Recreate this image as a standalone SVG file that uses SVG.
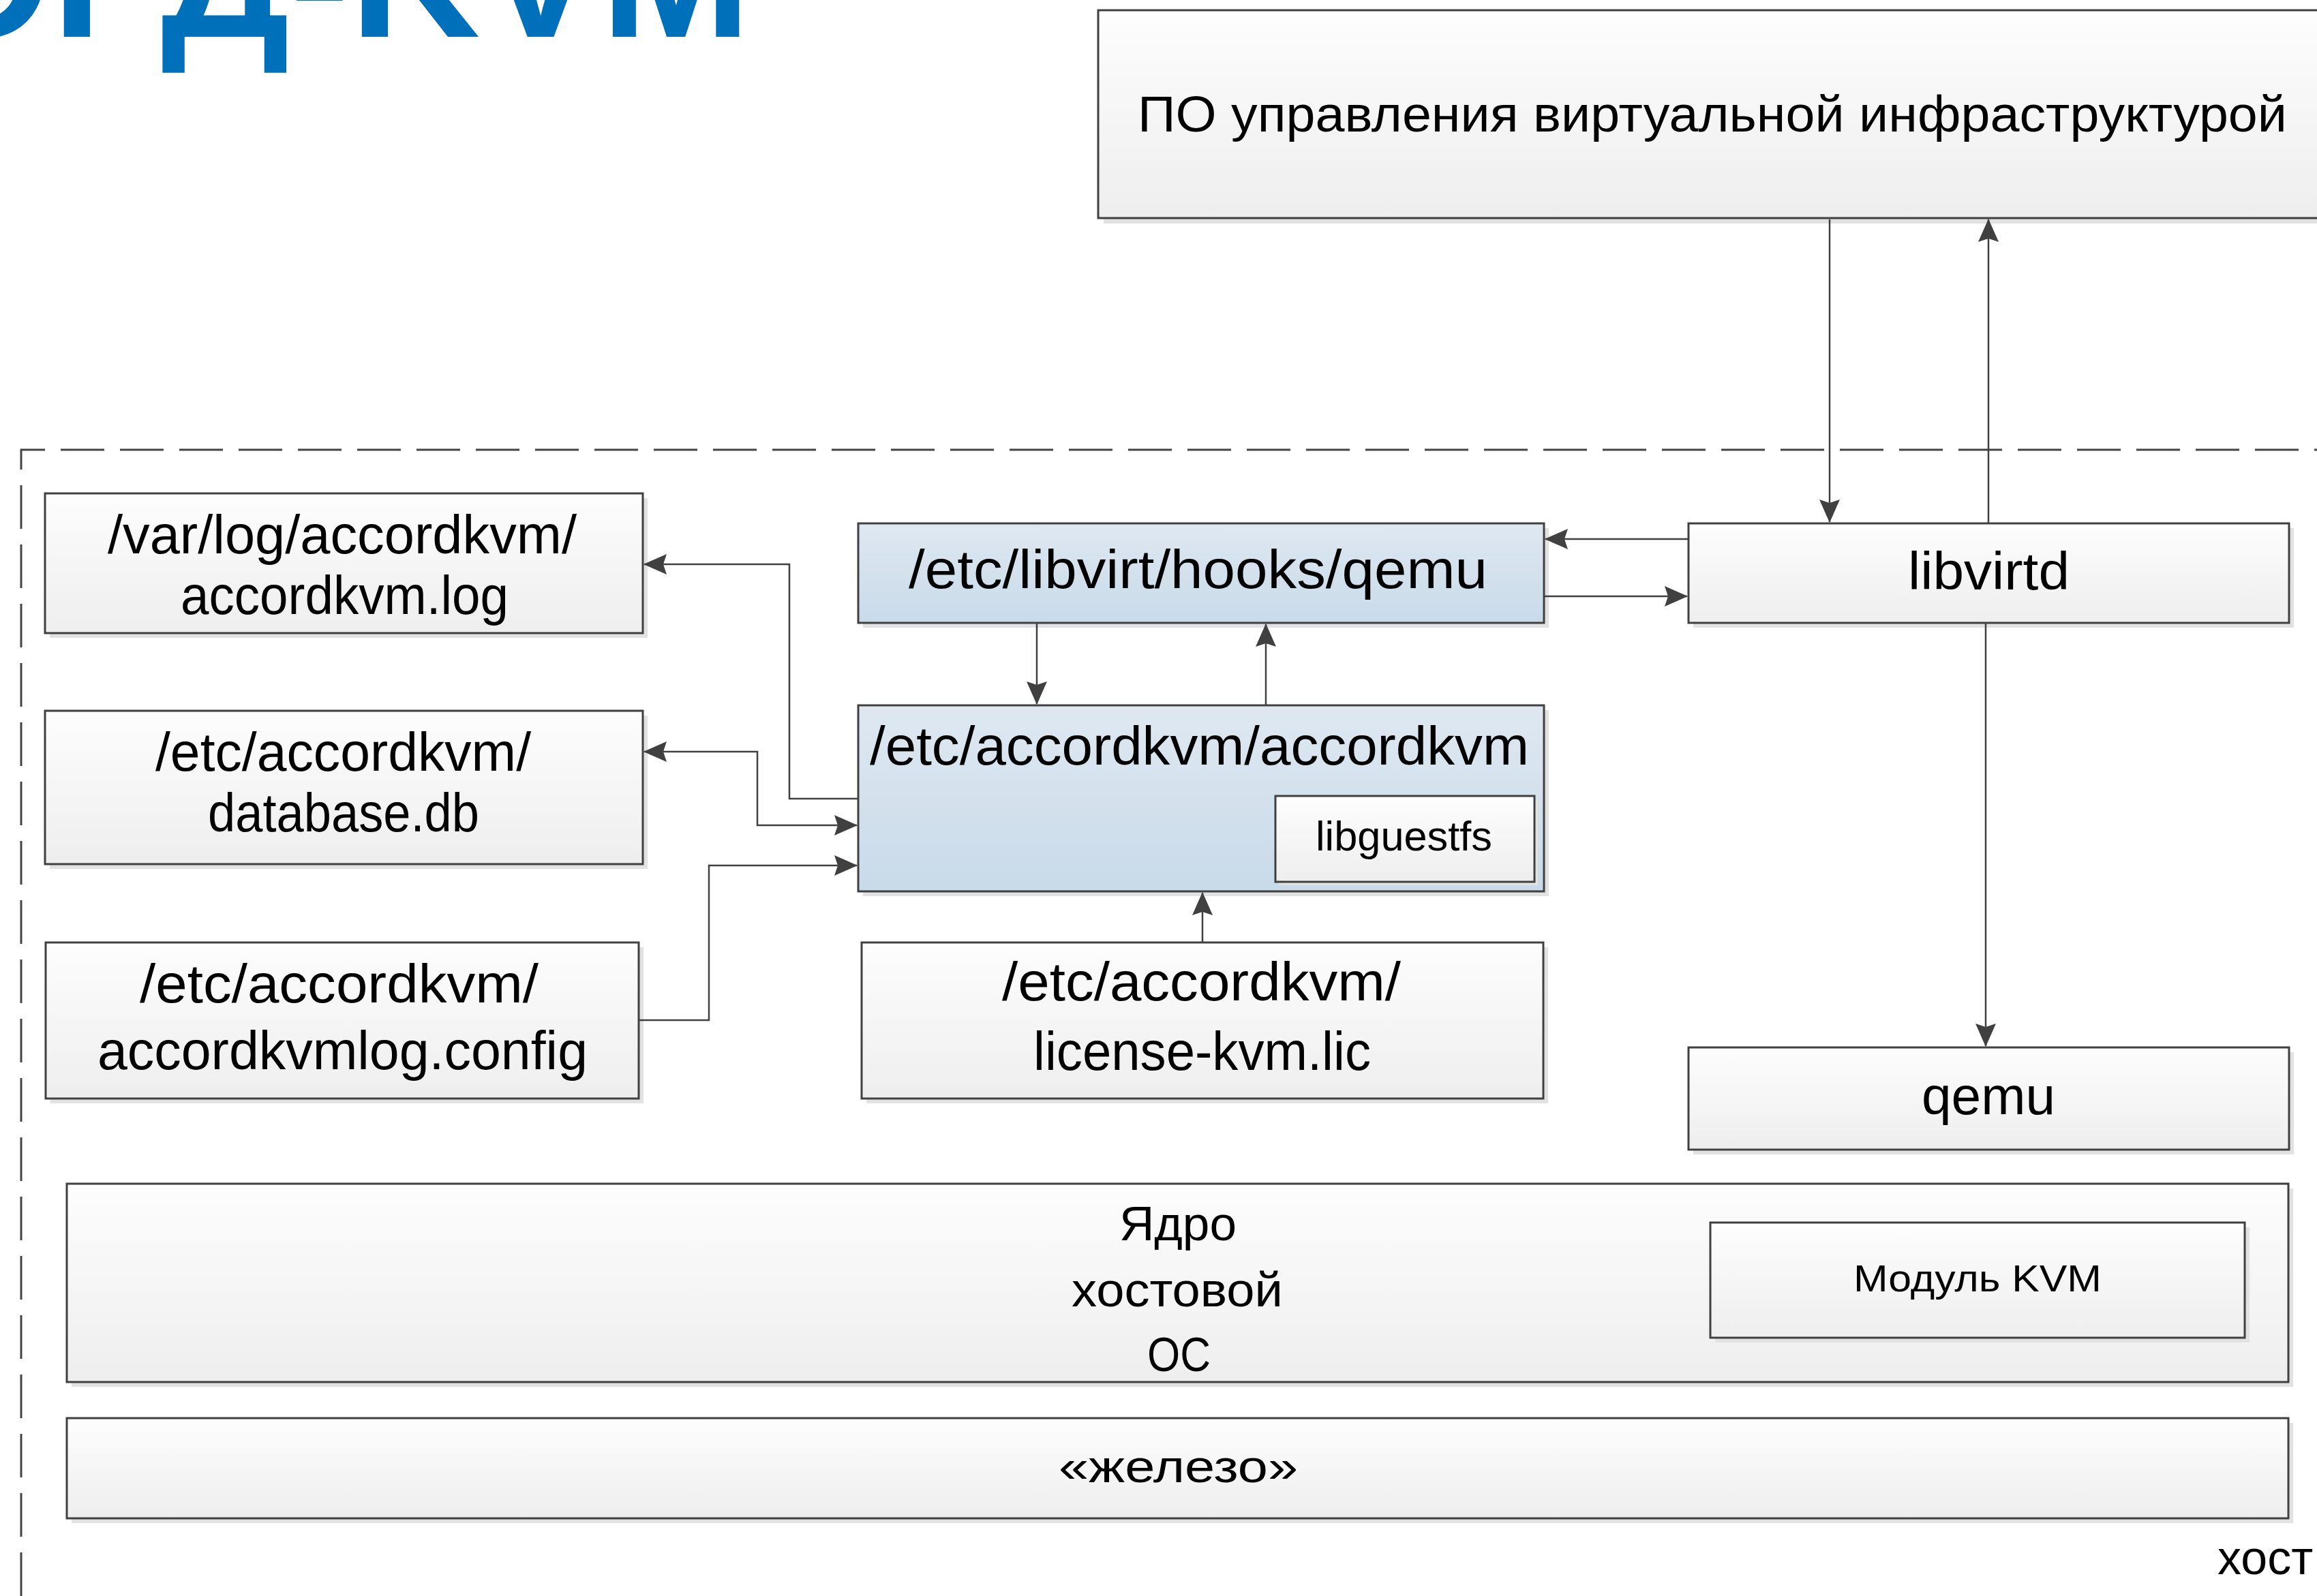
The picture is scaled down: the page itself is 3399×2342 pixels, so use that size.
<svg xmlns="http://www.w3.org/2000/svg" width="3399" height="2342" viewBox="0 0 3399 2342">
<defs>
<linearGradient id="gw" x1="0" y1="0" x2="0" y2="1"><stop offset="0" stop-color="#fdfdfd"/><stop offset="1" stop-color="#eeeeee"/></linearGradient>
<linearGradient id="gb" x1="0" y1="0" x2="0" y2="1"><stop offset="0" stop-color="#dfe8f1"/><stop offset="1" stop-color="#c8dae9"/></linearGradient>
<marker id="ah" viewBox="0 0 34 30" refX="33" refY="15" markerWidth="34" markerHeight="30" markerUnits="userSpaceOnUse" orient="auto-start-reverse"><path d="M0,0 L34,15 L0,30 L5,15 Z" fill="#404040"/></marker>
<style>
.box{fill:url(#gw);stroke:#404040;stroke-width:3}
.blue{fill:url(#gb);stroke:#404040;stroke-width:3}
.sh{fill:#e2e2e2}
.t{font-family:"Liberation Sans",Arial,sans-serif;fill:#000;font-size:80px}
.ca{fill:none;stroke:#404040;stroke-width:2.5;marker-end:url(#ah)}
</style>
</defs>
<rect width="3399" height="2342" fill="#ffffff"/>
<text id="title" x="1102" y="54" text-anchor="end" font-family="Liberation Sans,Arial,sans-serif" font-weight="bold" font-size="265" fill="#0070BA">АККОРД-KVM</text>
<path id="host-frame" d="M31,2342 V660 H3399" fill="none" stroke="#444444" stroke-width="3" stroke-dasharray="64 23"/>
<text id="host-label" class="t" x="3253" y="2310" style="font-size:70px">хост</text>

<g id="mgmt"><rect class="sh" x="1619" y="23" width="1800" height="305"/><rect class="box" x="1611" y="15" width="1800" height="305"/><text class="t" x="1669" y="193" style="font-size:74px" textLength="1686" lengthAdjust="spacingAndGlyphs">ПО управления виртуальной инфраструктурой</text></g>

<g id="varlog"><rect class="sh" x="73" y="731" width="877" height="205"/><rect class="box" x="66" y="724" width="877" height="205"/><text class="t" x="158" y="812" textLength="688" lengthAdjust="spacingAndGlyphs">/var/log/accordkvm/</text><text class="t" x="265" y="901" textLength="481" lengthAdjust="spacingAndGlyphs">accordkvm.log</text></g>

<g id="database"><rect class="sh" x="73" y="1050" width="877" height="225"/><rect class="box" x="66" y="1043" width="877" height="225"/><text class="t" x="228" y="1131" textLength="551" lengthAdjust="spacingAndGlyphs">/etc/accordkvm/</text><text class="t" x="305" y="1220" textLength="398" lengthAdjust="spacingAndGlyphs">database.db</text></g>

<g id="logconfig"><rect class="sh" x="74" y="1390" width="870" height="229"/><rect class="box" x="67" y="1383" width="870" height="229"/><text class="t" x="205" y="1471" textLength="585" lengthAdjust="spacingAndGlyphs">/etc/accordkvm/</text><text class="t" x="143" y="1569" textLength="719" lengthAdjust="spacingAndGlyphs">accordkvmlog.config</text></g>

<g id="hooks"><rect class="sh" x="1266" y="775" width="1006" height="146"/><rect class="blue" x="1259" y="768" width="1006" height="146"/><text class="t" x="1333" y="863" textLength="849" lengthAdjust="spacingAndGlyphs">/etc/libvirt/hooks/qemu</text></g>

<g id="accordkvm"><rect class="sh" x="1266" y="1042" width="1006" height="273"/><rect class="blue" x="1259" y="1035" width="1006" height="273"/><text class="t" x="1276" y="1122" textLength="967" lengthAdjust="spacingAndGlyphs">/etc/accordkvm/accordkvm</text>
<g id="libguestfs"><rect class="sh" x="1876" y="1173" width="380" height="126"/><rect class="box" x="1871" y="1168" width="380" height="126"/><text class="t" x="1930" y="1248" style="font-size:62px" textLength="259" lengthAdjust="spacingAndGlyphs">libguestfs</text></g></g>

<g id="license"><rect class="sh" x="1271" y="1390" width="1000" height="229"/><rect class="box" x="1264" y="1383" width="1000" height="229"/><text class="t" x="1470" y="1468" textLength="585" lengthAdjust="spacingAndGlyphs">/etc/accordkvm/</text><text class="t" x="1516" y="1570" textLength="495" lengthAdjust="spacingAndGlyphs">license-kvm.lic</text></g>

<g id="libvirtd"><rect class="sh" x="2484" y="775" width="881" height="146"/><rect class="box" x="2477" y="768" width="881" height="146"/><text class="t" x="2799" y="865" style="font-size:77px" textLength="237" lengthAdjust="spacingAndGlyphs">libvirtd</text></g>

<g id="qemu"><rect class="sh" x="2484" y="1544" width="881" height="150"/><rect class="box" x="2477" y="1537" width="881" height="150"/><text class="t" x="2819" y="1635" style="font-size:77px" textLength="196" lengthAdjust="spacingAndGlyphs">qemu</text></g>

<g id="kernel"><rect class="sh" x="105" y="1744" width="3259" height="291"/><rect class="box" x="98" y="1737" width="3259" height="291"/><text class="t" x="1642" y="1820" style="font-size:70px" textLength="172" lengthAdjust="spacingAndGlyphs">Ядро</text><text class="t" x="1572" y="1917" style="font-size:70px" textLength="310" lengthAdjust="spacingAndGlyphs">хостовой</text><text class="t" x="1683" y="2012" style="font-size:70px" textLength="93" lengthAdjust="spacingAndGlyphs">ОС</text>
<g id="kvm-module"><rect class="sh" x="2516" y="1801" width="784" height="169"/><rect class="box" x="2509" y="1794" width="784" height="169"/><text class="t" x="2719" y="1895" style="font-size:56px" textLength="364" lengthAdjust="spacingAndGlyphs">Модуль KVM</text></g></g>

<g id="hardware"><rect class="sh" x="105" y="2088" width="3259" height="147"/><rect class="box" x="98" y="2081" width="3259" height="147"/><text class="t" x="1553" y="2175" style="font-size:66px" textLength="351" lengthAdjust="spacingAndGlyphs">«железо»</text></g>

<g id="connectors">
<path class="ca" d="M2684,322 V766"/>
<path class="ca" d="M2917,768 V322"/>
<path class="ca" d="M2477,791 H2267"/>
<path class="ca" d="M2265,875 H2475"/>
<path class="ca" d="M1521,914 V1033"/>
<path class="ca" d="M1857,1035 V916"/>
<path class="ca" d="M1259,1172 H1158 V828 H945"/>
<path class="ca" style="marker-start:url(#ah)" d="M945,1103 H1111 V1211 H1257"/>
<path class="ca" d="M937,1497 H1040 V1270 H1257"/>
<path class="ca" d="M1764,1383 V1310"/>
<path class="ca" d="M2913,914 V1535"/>
</g>
</svg>
